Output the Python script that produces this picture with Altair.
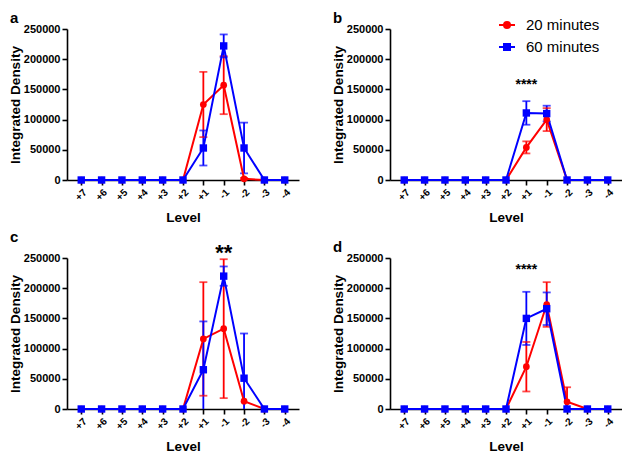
import altair as alt
import pandas as pd

LEVELS = ["+7", "+6", "+5", "+4", "+3", "+2", "+1", "-1", "-2", "-3", "-4"]
SERIES = ["20 minutes", "60 minutes"]
COLORS = ["#ff0000", "#0000ff"]
MARKERS = ["circle", "square"]
Y_TICKS = [0, 50000, 100000, 150000, 200000, 250000]

# panel a
A_20 = [0, 0, 0, 0, 0, 0, 125000, 157000, 2000, 0, 0]
A_20_SD = [0, 0, 0, 0, 0, 0, 54000, 48000, 1500, 0, 0]
A_60 = [0, 0, 0, 0, 0, 0, 53000, 222000, 53000, 0, 0]
A_60_SD = [0, 0, 0, 0, 0, 0, 29000, 19000, 42000, 0, 0]
# panel b
B_20 = [0, 0, 0, 0, 0, 0, 54000, 100000, 0, 0, 0]
B_20_SD = [0, 0, 0, 0, 0, 0, 10000, 19000, 0, 0, 0]
B_60 = [0, 0, 0, 0, 0, 0, 111000, 110000, 0, 0, 0]
B_60_SD = [0, 0, 0, 0, 0, 0, 19500, 13000, 0, 0, 0]
# panel c
C_20 = [0, 0, 0, 0, 0, 0, 116000, 133000, 13000, 0, 0]
C_20_SD = [0, 0, 0, 0, 0, 0, 94000, 115000, 0, 0, 0]
C_60 = [0, 0, 0, 0, 0, 0, 65000, 220000, 51000, 0, 0]
C_60_SD = [0, 0, 0, 0, 0, 0, 80000, 16000, 74000, 0, 0]
# panel d
D_20 = [0, 0, 0, 0, 0, 0, 70000, 173000, 12000, 0, 0]
D_20_SD = [0, 0, 0, 0, 0, 0, 41000, 37000, 24000, 0, 0]
D_60 = [0, 0, 0, 0, 0, 0, 150000, 166000, 0, 0, 0]
D_60_SD = [0, 0, 0, 0, 0, 0, 44000, 27000, 0, 0, 0]

PANEL_LETTERS = ["a", "b", "c", "d"]
ANNOT_LEVEL = [None, "+1", "-1", "+1"]
ANNOT_TEXT = ["", "****", "**", "****"]
ANNOT_Y = [0, 151000, 247000, 224000]
ANNOT_SIZE = [0, 14, 22, 14]

FONT = "Liberation Sans"
W, H = 232, 151

# legend glyphs: a short line with the series marker on it
LEGEND_GLYPHS = [
    "M-1,0H1M0.375,0A0.375,0.375,0,1,1,-0.375,0A0.375,0.375,0,1,1,0.375,0Z",
    "M-1,0H1M-0.375,-0.375H0.375V0.375H-0.375Z",
]


def make_df(m20, s20, m60, s60):
    rows = []
    for series, means, sds in ((SERIES[0], m20, s20), (SERIES[1], m60, s60)):
        for i, (lvl, m, s) in enumerate(zip(LEVELS, means, sds)):
            rows.append(dict(level=lvl, idx=i, series=series, mean=m, sd=s,
                             hi=m + s, lo=max(0, m - s), caplo=bool(m - s >= 0)))
    return pd.DataFrame(rows)


xscale = alt.Scale(type="point", domain=LEVELS, padding=0.7)
yscale = alt.Scale(domain=[0, 250000], nice=False, zero=True)
cscale = alt.Scale(domain=SERIES, range=COLORS)

xaxis = alt.Axis(title="Level", labelAngle=-45, labelFontSize=10, labelFontWeight="bold",
                 labelFont=FONT, labelColor="black", labelPadding=2, tickSize=5,
                 tickWidth=1.6, tickColor="black", domainColor="black", domainWidth=1.6,
                 titleFont=FONT, titleFontSize=13.5, titleFontWeight="bold",
                 titleColor="black", titlePadding=8, grid=False)
yaxis = alt.Axis(title="Integrated Density", values=Y_TICKS, format="d", labelFontSize=11,
                 labelFontWeight="bold", labelFont=FONT, labelColor="black", labelPadding=2,
                 tickSize=5, tickWidth=1.6, tickColor="black", domainColor="black",
                 domainWidth=1.6, titleFont=FONT, titleFontSize=13.5, titleFontWeight="bold",
                 titleColor="black", titlePadding=1, grid=False)

legend = alt.Legend(
    title=None, orient="none", legendX=431, legendY=-13, padding=0,
    labelFont=FONT, labelFontSize=15, labelColor="black", labelOffset=10,
    symbolSize=256, symbolStrokeWidth=2, symbolOpacity=1, rowPadding=5,
)


def panel(k, m20, s20, m60, s60, show_legend):
    df = make_df(m20, s20, m60, s60)
    base = alt.Chart(df)
    X = alt.X("level:O", scale=xscale, axis=xaxis, sort=LEVELS)
    col = alt.Color("series:N", scale=cscale, legend=legend)
    Ymean = alt.Y("mean:Q", scale=yscale, axis=yaxis)

    err = base.transform_filter("datum.sd > 0").mark_rule(strokeWidth=1.8).encode(
        x=X, y=alt.Y("lo:Q", scale=yscale, axis=yaxis), y2="hi:Q", color=col)
    cap_hi = base.transform_filter("datum.sd > 0").mark_tick(size=8, thickness=1.8).encode(
        x=X, y=alt.Y("hi:Q", scale=yscale, axis=yaxis), color=col)
    cap_lo = base.transform_filter("datum.sd > 0 && datum.caplo").mark_tick(
        size=8, thickness=1.8).encode(
        x=X, y=alt.Y("lo:Q", scale=yscale, axis=yaxis), color=col)
    line = base.mark_line(strokeWidth=2).encode(
        x=X, y=Ymean, color=col, order=alt.Order("idx:Q"))
    pts20 = base.transform_filter(alt.datum.series == SERIES[0]).mark_point(
        filled=True, opacity=1, shape=MARKERS[0], size=45).encode(x=X, y=Ymean, color=col)
    pts60 = base.transform_filter(alt.datum.series == SERIES[1]).mark_point(
        filled=True, opacity=1, shape=MARKERS[1], size=55).encode(x=X, y=Ymean, color=col)

    layers = [err, cap_hi, cap_lo, line, pts20, pts60]
    if show_legend:
        leg = base.mark_point(filled=True, opacity=0).encode(
            x=X, y=Ymean,
            color=col,
            stroke=alt.Stroke("series:N", scale=alt.Scale(domain=SERIES, range=COLORS), legend=legend),
            shape=alt.Shape("series:N", scale=alt.Scale(domain=SERIES, range=LEGEND_GLYPHS), legend=legend),
        )
        layers.append(leg)
    if ANNOT_LEVEL[k] is not None:
        adf = pd.DataFrame({"level": [ANNOT_LEVEL[k]], "yv": [ANNOT_Y[k]], "txt": [ANNOT_TEXT[k]]})
        txt = alt.Chart(adf).mark_text(fontSize=ANNOT_SIZE[k], fontWeight="bold", font=FONT,
                                       color="black", baseline="alphabetic").encode(
            x=X, y=alt.Y("yv:Q", scale=yscale, axis=yaxis), text="txt:N")
        layers.append(txt)

    return alt.layer(*layers).properties(
        width=W, height=H,
        title=alt.TitleParams(text=PANEL_LETTERS[k], anchor="start", frame="group", dx=-57,
                              fontSize=15, fontWeight="bold", font=FONT, color="black",
                              offset=-3))


pa = panel(0, A_20, A_20_SD, A_60, A_60_SD, False)
pb = panel(1, B_20, B_20_SD, B_60, B_60_SD, True)
pc = panel(2, C_20, C_20_SD, C_60, C_60_SD, False)
pd_ = panel(3, D_20, D_20_SD, D_60, D_60_SD, False)

chart = alt.concat(pa, pb, pc, pd_, columns=2, spacing={"row": 5, "column": 32}).properties(
    padding={"left": 0, "top": 3, "right": 0, "bottom": 0}
).configure_view(stroke=None)

chart.save("out.html", embed_options={"renderer": "svg", "actions": False})
